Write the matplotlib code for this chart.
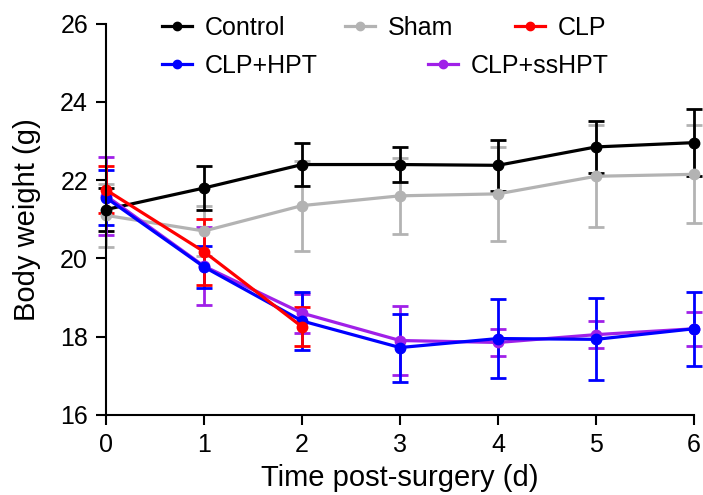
import matplotlib.pyplot as plt
from matplotlib.lines import Line2D

plt.rcParams['font.family'] = ['Liberation Sans', 'DejaVu Sans']

# days post surgery
days = [0, 1, 2, 3, 4, 5, 6]
days_clp = [0, 1, 2]

# mean body weight (g) and error
control = [21.25, 21.8, 22.4, 22.4, 22.38, 22.85, 22.96]
control_err = [0.55, 0.55, 0.55, 0.45, 0.65, 0.67, 0.85]
sham = [21.1, 20.7, 21.35, 21.6, 21.65, 22.1, 22.15]
sham_err = [0.8, 0.65, 1.15, 0.97, 1.2, 1.3, 1.25]
clp = [21.75, 20.17, 18.25]
clp_err = [0.6, 0.85, 0.5]
clp_hpt = [21.55, 19.78, 18.4, 17.72, 17.95, 17.93, 18.2]
clp_hpt_err = [0.7, 0.53, 0.75, 0.87, 1.0, 1.05, 0.95]
clp_sshpt = [21.6, 19.8, 18.6, 17.9, 17.85, 18.05, 18.2]
clp_sshpt_err = [1.0, 1.0, 0.5, 0.87, 0.35, 0.35, 0.43]

fig = plt.figure(figsize=(7.03, 4.95), dpi=100)
ax = fig.add_axes([0.151, 0.162, 0.836, 0.79])

series = [
    ("Sham", days, sham, sham_err, "#b3b3b3"),
    ("Control", days, control, control_err, "black"),
    ("CLP+ssHPT", days, clp_sshpt, clp_sshpt_err, "#a020e8"),
    ("CLP+HPT", days, clp_hpt, clp_hpt_err, "#0000ff"),
    ("CLP", days_clp, clp, clp_err, "#ff0000"),
]

handles = {}
for name, x, y, e, c in series:
    ax.errorbar(x, y, yerr=e, color=c, lw=2.3, marker='o', ms=7.5,
                capsize=6, capthick=2, elinewidth=2, clip_on=False)
    handles[name] = Line2D([], [], color=c, lw=2.3, marker='o', ms=6)

ax.set_xlim(0, 6)
ax.set_ylim(16, 26)
ax.set_xticks(days)
ax.set_yticks([16, 18, 20, 22, 24, 26])
ax.spines['top'].set_visible(False)
ax.spines['right'].set_visible(False)
ax.spines['left'].set_linewidth(1.5)
ax.spines['bottom'].set_linewidth(1.5)
ax.tick_params(width=1.5, length=7, labelsize=18, pad=6)
ax.set_xlabel("Time post-surgery (d)", fontsize=21, labelpad=5)
ax.set_ylabel("Body weight (g)", fontsize=21, labelpad=14)

# legend entries placed one by one (pixel x of handle start, pixel y from top)
leg_pos = {
    "Control": (162, 28),
    "Sham": (345, 28),
    "CLP": (515, 28),
    "CLP+HPT": (162, 66),
    "CLP+ssHPT": (428, 66),
}
for name, (px, py) in leg_pos.items():
    leg = fig.legend([handles[name]], [name], frameon=False, fontsize=18,
                     loc='center left', bbox_to_anchor=(px / 703, 1 - py / 495),
                     borderpad=0, borderaxespad=0, handlelength=1.2,
                     handletextpad=0.5)

fig.savefig("out.png", dpi=100)
